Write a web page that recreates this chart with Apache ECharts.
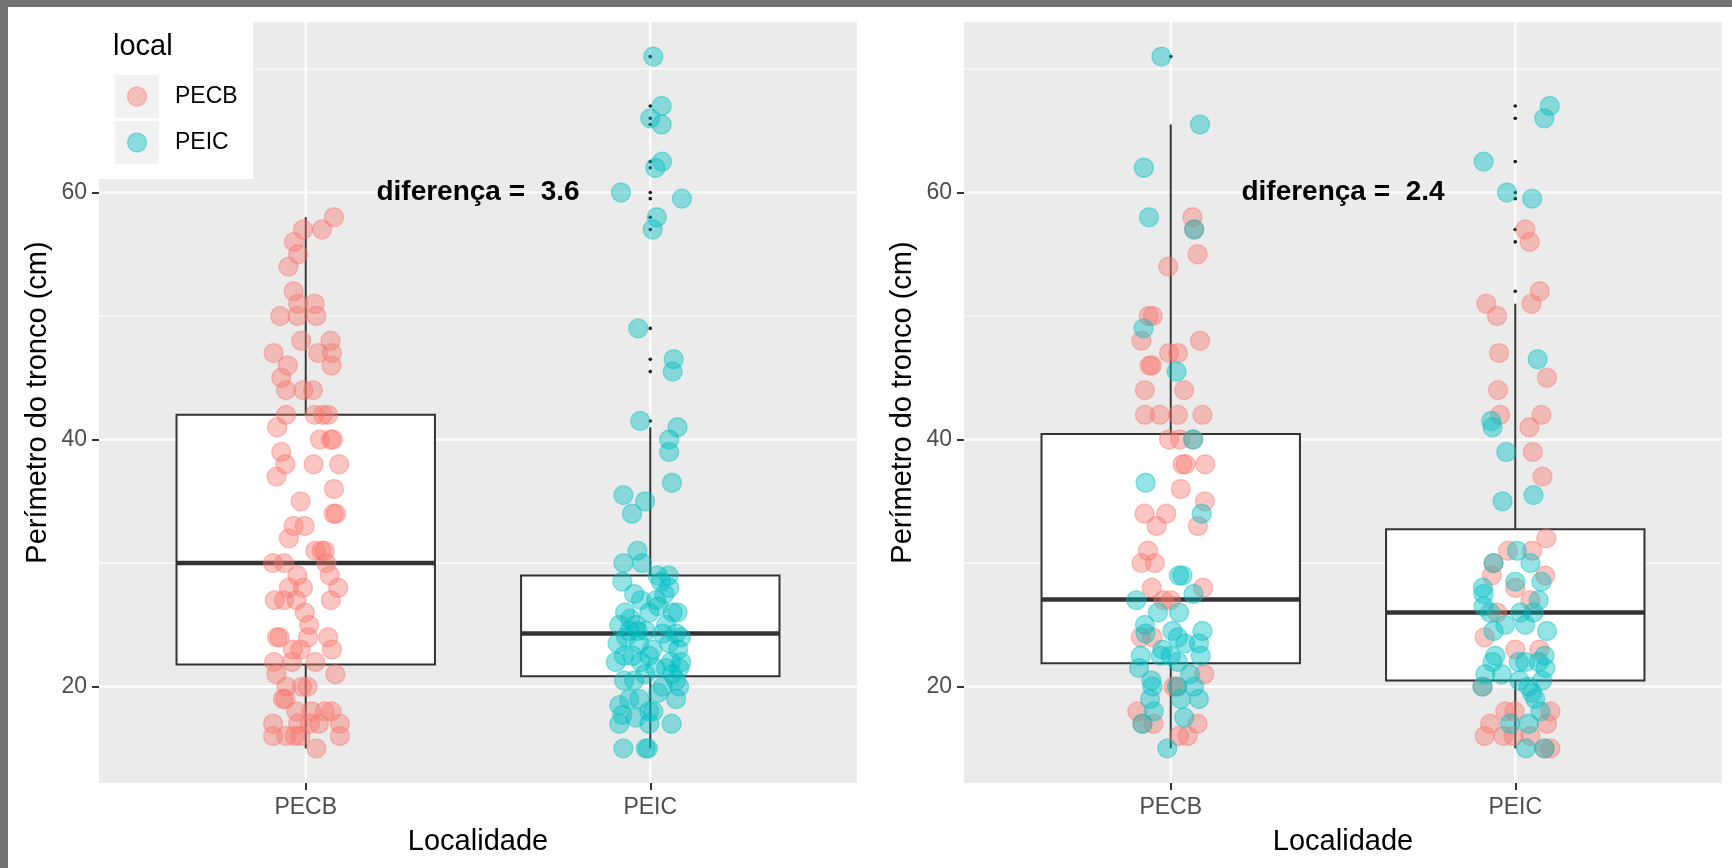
<!DOCTYPE html>
<html><head><meta charset="utf-8">
<script src="https://cdn.jsdelivr.net/npm/echarts@6/dist/echarts.min.js"></script>
<style>html,body{margin:0;padding:0;background:#fff}#c{width:1732px;height:868px}</style>
</head><body><div id="c"></div>
<script>
// ---------- data ----------
const categories = ['PECB', 'PEIC'];
const legendTitle = 'local';
const xTitle = 'Localidade';
const yTitle = 'Perímetro do tronco (cm)';
const yTicks = [20, 40, 60];
const yMinorTicks = [30, 50, 70];
const yRange = [12.2, 73.8];
const xRange = [0.4, 2.6];
const diffs = [3.6, 2.4];

// observed grouping (left panel): [perimeter, horizontal jitter in category units]
const observedPECB = [
  [58,0.082],[57,0.047],[57,-0.008],[56,-0.034],[55,-0.022],[54,-0.050],[52,-0.035],[51,-0.022],[51,0.026],
  [50,-0.074],[50,-0.024],[50,0.031],[48,-0.013],[48,0.072],[47,-0.093],[47,0.036],[47,0.076],[46,-0.052],
  [46,0.075],[45,-0.071],[44,-0.057],[44,-0.007],[44,0.021],[42,-0.057],[42,0.026],[42,0.050],[42,0.065],
  [41,-0.083],[40,0.041],[40,0.073],[40,0.079],[39,-0.071],[38,-0.059],[38,0.023],[38,0.097],[37,-0.085],
  [36,0.082],[35,-0.015],[34,0.081],[34,0.088],[33,-0.035],[33,-0.003],[32,-0.049],[31,0.028],[31,0.046],
  [31,0.055],[30,-0.095],[30,-0.063],[30,0.060],[29,-0.024],[29,0.070],[28,-0.049],[28,-0.008],[28,0.094],
  [27,-0.090],[27,-0.063],[27,-0.027],[27,0.073],[26,-0.003],[25,0.010],[24,-0.083],[24,-0.076],[24,0.007],
  [24,0.065],[23,-0.037],[23,-0.015],[23,0.076],[22,-0.092],[22,-0.040],[22,0.028],[21,-0.085],[21,0.086],
  [20,-0.056],[20,-0.011],[20,0.005],[19,-0.066],[19,-0.059],[18,-0.027],[18,0.017],[18,0.055],[18,0.075],
  [17,-0.095],[17,-0.022],[17,0.012],[17,0.038],[17,0.099],[16,-0.095],[16,-0.056],[16,-0.032],[16,-0.015],
  [16,0.099],[15,0.031]
];
const observedPEIC = [
  [71,0.009],[67,0.033],[66,0],[65.5,0.033],[62.5,0.034],[62,0.015],[60,-0.085],[59.5,0.092],[58,0.019],
  [57,0.007],[49,-0.035],[46.5,0.068],[45.5,0.065],[41.5,-0.029],[41,0.079],[40,0.055],[39,0.055],[36.5,0.063],
  [35.5,-0.078],[35,-0.015],[34,-0.053],[31,-0.037],[30,-0.078],[30,-0.024],[29,0.021],[29,0.053],[28.5,-0.081],
  [28.5,0.031],[28,0.055],[27.5,-0.047],[27,0.017],[27,-0.027],[26,-0.073],[26,-0.003],[26,0.065],[26,0.079],
  [25,-0.090],[25,-0.042],[25,0.046],[24.5,-0.061],[24.5,-0.037],[24.5,-0.013],[24.3,0.036],[24.3,0.075],
  [24,0.089],[23.5,-0.095],[23.5,-0.032],[23.5,0.055],[22.5,-0.076],[22.5,-0.051],[22.5,-0.003],[22,-0.100],
  [22,-0.027],[22,0.060],[21.5,0.084],[21.5,0.046],[21.5,0.015],[20.5,-0.076],[20.5,-0.047],[20.5,0.075],
  [20,0.036],[20,0.084],[18.5,-0.090],[19,-0.061],[19,-0.032],[19,0.075],[17.7,-0.081],[18,-0.003],[18,0.009],
  [17.5,-0.042],[17,-0.090],[17,-0.003],[17,0.062],[15,-0.078],[15,-0.013],[15,-0.007],
  [25.5,-0.058],[26.5,0.023],[23,0.006],[23,0.081],[21,-0.015],[21,0.064],[24,-0.070],[27.5,0.041],
  [19.5,0.023],[22,0.090]
];

// permuted grouping (right panel): points placed at PECB / PEIC, coloured by original locality
const permAtPECB_fromPECB = [
  [58,0.063],[57,0.068],[55,0.078],[54,-0.007],[50,-0.064],[50,-0.052],[48,-0.085],[48,0.085],[47,-0.005],
  [47,0.021],[46,-0.061],[46,-0.055],[44,-0.075],[44,0.039],[42,-0.075],[42,-0.032],[42,0.021],[42,0.092],
  [40,-0.005],[40,0.027],[40,0.065],[38,0.034],[38,0.043],[38,0.100],[36,0.029],[35,0.099],[34,-0.076],
  [34,-0.013],[33,-0.041],[33,0.079],[31,-0.066],[30,-0.085],[30,-0.046],[28,-0.055],[28,0.094],[27,-0.021],
  [27,0],[24,-0.087],[24,-0.053],[21,0.097],[20,0.008],[20,0.017],[18,-0.097],[17,-0.050],[17,-0.082],
  [17,0.078],[16,0.024],[16,0.049]
];
const permAtPECB_fromPEIC = [
  [71,-0.027],[65.5,0.085],[62,-0.078],[58,-0.063],[57,0.068],[49,-0.079],[45.5,0.017],[40,0.065],[36.5,-0.073],
  [34,0.090],[29,0.024],[29,0.034],[27.5,0.066],[27,-0.100],[26,-0.037],[26,0.024],[25,-0.075],[24.5,0.092],
  [24.3,-0.073],[24.5,0.005],[24,0.021],[23.5,0.042],[23.5,0.082],[23,-0.024],[22.5,-0.087],[22.5,0],
  [22.5,0.087],[22.5,-0.029],[22,0.021],[21.5,-0.092],[20.5,-0.056],[21,0.056],[20,-0.053],[20,0.068],
  [20,0.019],[19,-0.060],[19,0.029],[19,0.082],[18,-0.049],[17.5,0.039],[17,-0.082],[15,-0.010]
];
const permAtPEIC_fromPECB = [
  [57,0.029],[56,0.042],[52,0.071],[51,-0.084],[51,0.047],[50,-0.053],[47,-0.047],[45,0.092],[44,-0.050],
  [42,-0.044],[42,0.076],[41,0.041],[39,0.051],[37,0.079],[32,0.090],[31,-0.021],[31,0.049],[30,-0.063],
  [29,-0.068],[29,0.087],[28,0],[27,0.044],[26,-0.053],[24,-0.089],[23,0],[23,0.070],[20,-0.095],[18,-0.029],
  [18,-0.002],[18,0.102],[17,-0.073],[17,0.092],[16,-0.089],[16,-0.034],[16,-0.005],[16,0.044],[15,0.085],
  [15,0.102]
];
const permAtPEIC_fromPEIC = [
  [67,0.100],[66,0.084],[62.5,-0.092],[60,-0.024],[59.5,0.049],[46.5,0.065],[41.5,-0.070],[41,-0.066],
  [39,-0.026],[35.5,0.053],[35,-0.037],[31,0.005],[30,-0.063],[30,0.044],[28.5,0.076],[28.5,0],[28,-0.094],
  [27.5,-0.092],[27,0.068],[26.5,-0.092],[26,-0.073],[26,0.015],[26,0.053],[25,0.029],[25,-0.029],
  [24.5,-0.063],[24.5,0.092],[22.5,-0.058],[22.5,0.085],[22,-0.066],[22,0.010],[22,0.029],[22,0.068],
  [21,-0.087],[21,-0.039],[21.5,0.087],[20,-0.095],[20.5,0.012],[20,0.039],[20.5,0.078],[19.5,0.049],
  [19,0.058],[18,0.073],[17,-0.015],[17,0.039],[15,0.031],[15,0.085]
];

// boxplot stats per group: [lower whisker, Q1, median, Q3, upper whisker]
const boxObserved = [[15, 21.8, 30, 42, 58], [15, 20.85, 24.3, 29, 41]];
const boxPermuted = [[15, 21.9, 27.05, 40.45, 65.5], [15, 20.5, 26, 32.75, 51]];
const outliersObserved = [[], [71, 67, 66, 65.5, 62.5, 62, 60, 59.5, 58, 57, 49, 46.5, 45.5, 41.5]];
const outliersPermuted = [[71], [67, 66, 62.5, 60, 59.5, 57, 56, 52]];

// ---------- chart ----------
const FONT = "'Liberation Sans', Arial, Helvetica, sans-serif";
const COLORS = ['#F8766D', '#00BFC4'];
const DARK = '#333333';
const chart = echarts.init(document.getElementById('c'), null, {renderer: 'canvas'});

const grids = [
  {left: 99, top: 22, width: 758, height: 761, show: true, backgroundColor: '#EBEBEB', borderWidth: 0},
  {left: 964, top: 22, width: 758, height: 761, show: true, backgroundColor: '#EBEBEB', borderWidth: 0}
];

function xAxisFor(i) {
  return {
    type: 'value', gridIndex: i, min: xRange[0], max: xRange[1],
    axisLine: {show: false},
    axisTick: {show: true, customValues: [1, 2], length: 7, lineStyle: {color: DARK, width: 2}},
    axisLabel: {customValues: [1, 2], formatter: v => categories[Math.round(v) - 1] || '',
      color: '#4D4D4D', fontSize: 23, fontFamily: FONT, margin: 13},
    splitLine: {show: false},
    name: xTitle, nameLocation: 'middle', nameGap: 44,
    nameTextStyle: {fontSize: 29, color: '#000', fontFamily: FONT}
  };
}
function yAxisFor(i) {
  return {
    type: 'value', gridIndex: i, min: yRange[0], max: yRange[1],
    axisLine: {show: false},
    axisTick: {show: true, customValues: yTicks, length: 7, lineStyle: {color: DARK, width: 2}},
    axisLabel: {customValues: yTicks, color: '#4D4D4D', fontSize: 23, fontFamily: FONT, margin: 12},
    splitLine: {show: false},
    name: yTitle, nameLocation: 'middle', nameGap: 47, nameRotate: 90,
    nameTextStyle: {fontSize: 29, color: '#000', fontFamily: FONT}
  };
}

function panelSeries(i, boxes, outliers, pointGroups, diff) {
  const s = [];
  const hLines = yTicks.concat(yMinorTicks);
  s.push({
    type: 'custom', xAxisIndex: i, yAxisIndex: i, z: 1, silent: true, clip: false,
    data: hLines.map(v => [1.5, v]),
    renderItem: (params, api) => {
      const v = api.value(1);
      const a = api.coord([xRange[0], v]), b = api.coord([xRange[1], v]);
      return {type: 'line', shape: {x1: a[0], y1: a[1], x2: b[0], y2: b[1]},
        style: {stroke: '#FFFFFF', lineWidth: yTicks.includes(v) ? 2.2 : 1.1}};
    }
  });
  s.push({
    type: 'custom', xAxisIndex: i, yAxisIndex: i, z: 1, silent: true, clip: false,
    data: categories.map((c, k) => [k + 1, 43]),
    renderItem: (params, api) => {
      const x = api.value(0);
      const a = api.coord([x, yRange[0]]), b = api.coord([x, yRange[1]]);
      return {type: 'line', shape: {x1: a[0], y1: a[1], x2: b[0], y2: b[1]},
        style: {stroke: '#FFFFFF', lineWidth: 2.2}};
    }
  });
  s.push({
    type: 'custom', xAxisIndex: i, yAxisIndex: i, z: 2, silent: true,
    data: boxes.map((b, k) => [k + 1].concat(b)),
    renderItem: (params, api) => {
      const x = api.value(0);
      const mn = api.value(1), q1 = api.value(2), md = api.value(3), q3 = api.value(4), mx = api.value(5);
      const hw = 0.375;
      const tl = api.coord([x - hw, q3]), br = api.coord([x + hw, q1]);
      const pmx = api.coord([x, mx]), pq3 = api.coord([x, q3]), pq1 = api.coord([x, q1]), pmn = api.coord([x, mn]);
      const ml = api.coord([x - hw, md]), mr = api.coord([x + hw, md]);
      return {type: 'group', children: [
        {type: 'line', shape: {x1: pmx[0], y1: pmx[1], x2: pq3[0], y2: pq3[1]}, style: {stroke: DARK, lineWidth: 2}},
        {type: 'line', shape: {x1: pq1[0], y1: pq1[1], x2: pmn[0], y2: pmn[1]}, style: {stroke: DARK, lineWidth: 2}},
        {type: 'rect', shape: {x: tl[0], y: tl[1], width: br[0] - tl[0], height: br[1] - tl[1]},
          style: {fill: '#FFFFFF', stroke: DARK, lineWidth: 2}},
        {type: 'line', shape: {x1: ml[0], y1: ml[1], x2: mr[0], y2: mr[1]}, style: {stroke: DARK, lineWidth: 4.5}}
      ]};
    }
  });
  const outData = [];
  outliers.forEach((arr, k) => arr.forEach(v => outData.push([k + 1, v])));
  s.push({
    type: 'scatter', xAxisIndex: i, yAxisIndex: i, z: 3, silent: true,
    symbol: 'circle', symbolSize: 3.6, data: outData,
    itemStyle: {color: '#1A1A1A', opacity: 1}
  });
  pointGroups.forEach(g => {
    s.push({
      type: 'scatter', xAxisIndex: i, yAxisIndex: i, z: 4, silent: true,
      symbol: 'circle', symbolSize: 19,
      data: g.pts.map(([v, j]) => [g.pos + j, v]),
      itemStyle: {color: COLORS[g.colour], opacity: 0.42, borderColor: COLORS[g.colour], borderWidth: 1.4}
    });
  });
  s.push({
    type: 'scatter', xAxisIndex: i, yAxisIndex: i, z: 6, silent: true,
    symbolSize: 0, data: [[1.5, 60]],
    itemStyle: {opacity: 1},
    label: {show: true, position: 'inside', formatter: 'diferença =  ' + diff.toFixed(1),
      fontSize: 28, fontWeight: 'bold', color: '#000000', textBorderWidth: 0, fontFamily: FONT}
  });
  return s;
}

const series = [].concat(
  panelSeries(0, boxObserved, outliersObserved, [
    {pos: 1, colour: 0, pts: observedPECB},
    {pos: 2, colour: 1, pts: observedPEIC}
  ], diffs[0]),
  panelSeries(1, boxPermuted, outliersPermuted, [
    {pos: 1, colour: 0, pts: permAtPECB_fromPECB},
    {pos: 2, colour: 0, pts: permAtPEIC_fromPECB},
    {pos: 1, colour: 1, pts: permAtPECB_fromPEIC},
    {pos: 2, colour: 1, pts: permAtPEIC_fromPEIC}
  ], diffs[1])
);

const legendItems = [
  {type: 'rect', shape: {x: 8, y: 22, width: 245, height: 157}, style: {fill: '#FFFFFF'}, z: 100},
  {type: 'text', x: 113, y: 47, style: {text: legendTitle, font: '29px ' + FONT, fill: '#000', textVerticalAlign: 'middle'}, z: 101},
  {type: 'rect', shape: {x: 115, y: 75, width: 44, height: 43}, style: {fill: '#F2F2F2'}, z: 101},
  {type: 'rect', shape: {x: 115, y: 121, width: 44, height: 43}, style: {fill: '#F2F2F2'}, z: 101},
  {type: 'circle', shape: {cx: 137, cy: 96.5, r: 9.5}, style: {fill: COLORS[0], stroke: COLORS[0], lineWidth: 1.4, opacity: 0.42}, z: 102},
  {type: 'circle', shape: {cx: 137, cy: 142.5, r: 9.5}, style: {fill: COLORS[1], stroke: COLORS[1], lineWidth: 1.4, opacity: 0.42}, z: 102},
  {type: 'text', x: 175, y: 97, style: {text: categories[0], font: '23px ' + FONT, fill: '#000', textVerticalAlign: 'middle'}, z: 102},
  {type: 'text', x: 175, y: 143, style: {text: categories[1], font: '23px ' + FONT, fill: '#000', textVerticalAlign: 'middle'}, z: 102}
];
const frameGraphic = [
  {type: 'rect', shape: {x: 0, y: 0, width: 1732, height: 7}, style: {fill: '#737373'}, z: 110},
  {type: 'rect', shape: {x: 0, y: 0, width: 8, height: 868}, style: {fill: '#737373'}, z: 110}
];

chart.setOption({
  animation: false,
  backgroundColor: '#FFFFFF',
  grid: grids,
  xAxis: [xAxisFor(0), xAxisFor(1)],
  yAxis: [yAxisFor(0), yAxisFor(1)],
  series: series,
  graphic: legendItems.concat(frameGraphic)
});
</script></body></html>
